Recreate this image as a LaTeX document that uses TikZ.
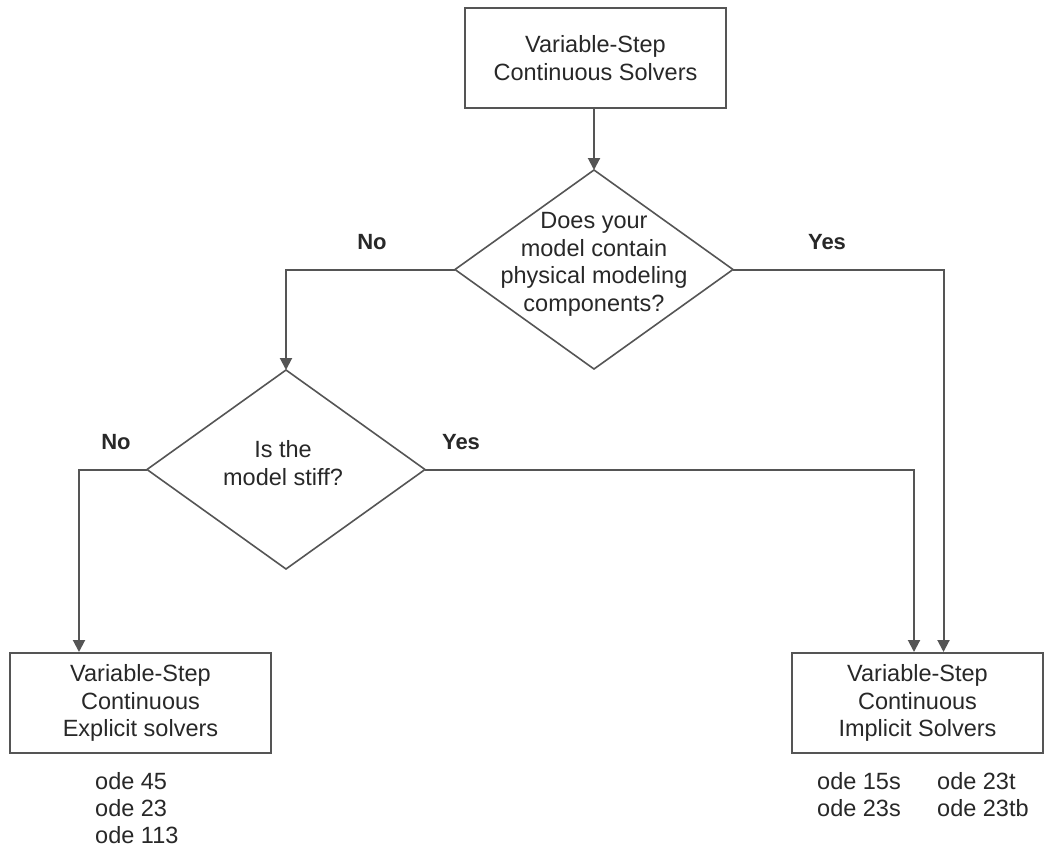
\documentclass[tikz,border=0pt]{standalone}
\usepackage{fontspec}
\setmainfont{Liberation Sans}
\usetikzlibrary{shapes.geometric,arrows.meta}
\definecolor{linec}{RGB}{85,85,85}
\definecolor{textc}{RGB}{40,40,40}
\begin{document}
\begin{tikzpicture}[x=1pt,y=-1pt,
  every node/.style={text=textc, font=\fontsize{23.5}{27.5}\selectfont},
  boxnode/.style={draw=linec, line width=2pt, rectangle, minimum height=100pt, inner sep=0pt, align=center},
  dianode/.style={draw=linec, line width=1.6pt, diamond, minimum width=278pt, minimum height=199pt, inner sep=0pt, outer sep=0pt},
  conn/.style={draw=linec, line width=2pt},
  arr/.style={conn, -{Triangle[width=12pt,length=12pt]}},
  lab/.style={font=\fontsize{22}{26}\selectfont\bfseries},
  ode/.style={anchor=base west, inner sep=0pt}]
\useasboundingbox (0,0) rectangle (1046,846);
\fill[white] (0,0) rectangle (1046,846);

\node[boxnode, minimum width=261pt] (top) at (595.5,58) {Variable-Step\\Continuous Solvers};
\node[dianode] (q1) at (594,269.5) {};
\node[align=center] (q1t) at (594,264.5) {Does your\\model contain\\physical modeling\\components?};
\node[dianode] (q2) at (286,469.5) {};
\node[align=center] (q2t) at (283,463) {Is the\\model stiff?};
\node[boxnode, minimum width=261pt] (ex) at (140.5,703) {Variable-Step\\Continuous\\Explicit solvers};
\node[boxnode, minimum width=251pt] (im) at (917.5,703) {Variable-Step\\Continuous\\Implicit Solvers};

\draw[arr] (top.south -| q1.north) -- (q1.north);
\draw[arr] (q1.west) -| (q2.north);
\draw[arr] (q1.east) -| ([xshift=26pt]im.north);
\draw[arr] (q2.west) -| ([xshift=-61.5pt]ex.north);
\draw[arr] (q2.east) -| ([xshift=-3.5pt]im.north);

\node[lab] (n1) at (372,242) {No};
\node[lab] (y1) at (827,242) {Yes};
\node[lab] (n2) at (116,442) {No};
\node[lab] (y2) at (461,442) {Yes};

\node[ode] (o1) at (95,789.5) {ode 45};
\node[ode] (o2) at (95,816.5) {ode 23};
\node[ode] (o3) at (95,843) {ode 113};
\node[ode] (o4) at (817,789) {ode 15s};
\node[ode] (o5) at (817,816.5) {ode 23s};
\node[ode] (o6) at (937,789) {ode 23t};
\node[ode] (o7) at (937,816.5) {ode 23tb};
\end{tikzpicture}
\end{document}
